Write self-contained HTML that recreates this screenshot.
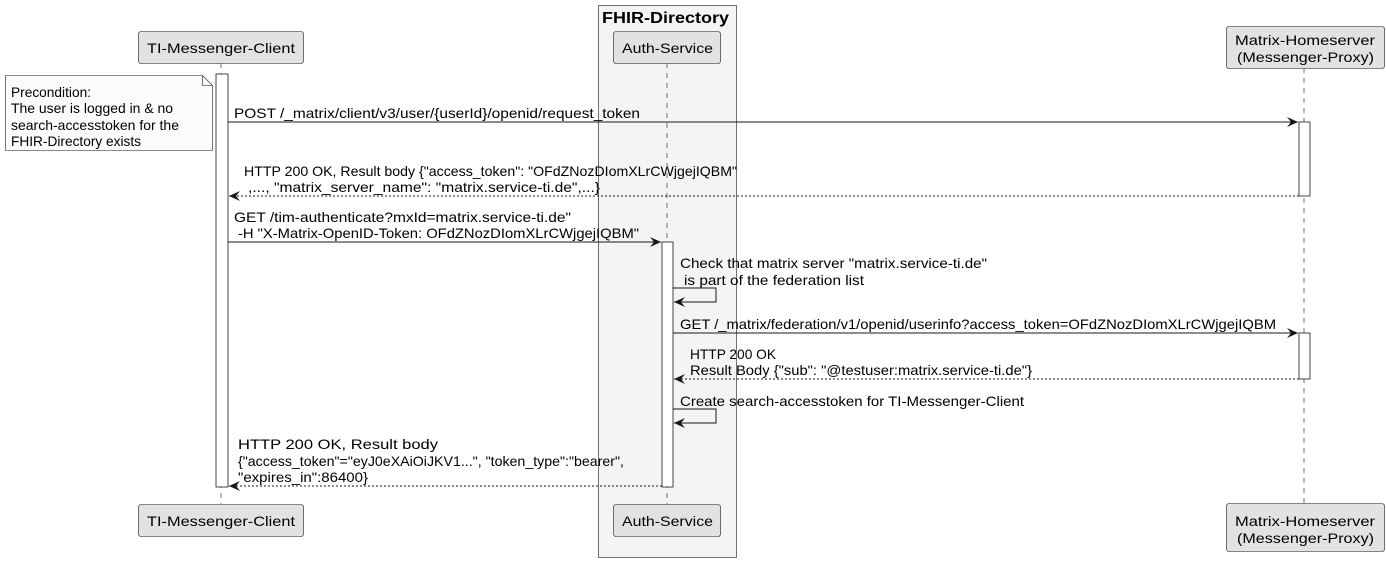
<!DOCTYPE html>
<html><head><meta charset="utf-8"><style>
html,body{margin:0;padding:0;background:#fff;}
svg text{font-family:"Liberation Sans","DejaVu Sans",sans-serif;font-size:14px;fill:#000;}
</style></head><body>
<svg width="1386" height="563" viewBox="0 0 1386 563" xmlns="http://www.w3.org/2000/svg">
<defs>
<marker id="a" markerWidth="12" markerHeight="10" refX="11" refY="5" orient="auto" markerUnits="userSpaceOnUse">
<path d="M0,0 L11,5 L0,10 L4,5 Z" fill="#181818"/>
</marker>
</defs>
<rect x="598.5" y="5.5" width="138" height="552" fill="#f4f4f4" stroke="#181818" stroke-width="0.6"/>
<text x="602" y="23" textLength="127" lengthAdjust="spacingAndGlyphs" style="font-weight:bold;font-size:16px">FHIR-Directory</text>
<g stroke="#181818" stroke-width="0.6" stroke-dasharray="5,5">
<line x1="221" y1="63" x2="221" y2="504"/>
<line x1="667" y1="63" x2="667" y2="504"/>
<line x1="1304" y1="68" x2="1304" y2="503"/>
</g>
<g fill="#e2e2e2" stroke="#181818" stroke-width="0.6">
<rect x="138.5" y="31.5" width="165" height="32" rx="2.5"/>
<rect x="613.5" y="31.5" width="107" height="32" rx="2.5"/>
<rect x="1226.5" y="26.5" width="158" height="42" rx="2.5"/>
<rect x="138.5" y="504.5" width="165" height="32" rx="2.5"/>
<rect x="613.5" y="504.5" width="107" height="32" rx="2.5"/>
<rect x="1226.5" y="503.5" width="158" height="48" rx="2.5"/>
</g>
<g style="font-size:15px">
<text x="147" y="53" textLength="148" lengthAdjust="spacingAndGlyphs">TI-Messenger-Client</text>
<text x="622" y="53" textLength="91" lengthAdjust="spacingAndGlyphs">Auth-Service</text>
<text x="1235" y="45" textLength="140" lengthAdjust="spacingAndGlyphs">Matrix-Homeserver</text>
<text x="1237" y="62" textLength="137" lengthAdjust="spacingAndGlyphs">(Messenger-Proxy)</text>
<text x="147" y="526" textLength="148" lengthAdjust="spacingAndGlyphs">TI-Messenger-Client</text>
<text x="622" y="526" textLength="91" lengthAdjust="spacingAndGlyphs">Auth-Service</text>
<text x="1235" y="526" textLength="140" lengthAdjust="spacingAndGlyphs">Matrix-Homeserver</text>
<text x="1237" y="543" textLength="137" lengthAdjust="spacingAndGlyphs">(Messenger-Proxy)</text>
</g>
<g fill="#fff" stroke="#181818" stroke-width="0.8">
<rect x="216" y="74" width="12" height="413"/>
<rect x="662" y="242" width="11" height="245"/>
<rect x="1299" y="122" width="11" height="74"/>
<rect x="1299" y="333" width="11" height="46"/>
</g>
<path d="M5.5,75.5 L202.5,75.5 L212.5,85.5 L212.5,150.5 L5.5,150.5 Z" fill="#fbfbfb" stroke="#181818" stroke-width="0.6"/>
<path d="M202.5,75.5 L202.5,85.5 L212.5,85.5" fill="none" stroke="#181818" stroke-width="0.6"/>
<text x="11" y="97" textLength="80" lengthAdjust="spacingAndGlyphs">Precondition:</text>
<text x="11" y="113" textLength="162" lengthAdjust="spacingAndGlyphs">The user is logged in &amp; no</text>
<text x="11" y="130" textLength="168" lengthAdjust="spacingAndGlyphs">search-accesstoken for the</text>
<text x="11" y="146" textLength="130" lengthAdjust="spacingAndGlyphs">FHIR-Directory exists</text>
<g stroke="#181818" stroke-width="1" fill="none">
<line x1="228" y1="122" x2="1298" y2="122" marker-end="url(#a)"/>
<line x1="1299" y1="196" x2="229" y2="196" stroke-dasharray="2,2" marker-end="url(#a)"/>
<line x1="228" y1="242" x2="661" y2="242" marker-end="url(#a)"/>
<polyline points="673,288 716,288 716,302 674,302" marker-end="url(#a)"/>
<line x1="673" y1="333" x2="1298" y2="333" marker-end="url(#a)"/>
<line x1="1299" y1="379" x2="674" y2="379" stroke-dasharray="2,2" marker-end="url(#a)"/>
<polyline points="673,409 716,409 716,423 674,423" marker-end="url(#a)"/>
<line x1="662" y1="486" x2="229" y2="486" stroke-dasharray="2,2" marker-end="url(#a)"/>
</g>
<text x="234" y="118" textLength="406" lengthAdjust="spacingAndGlyphs">POST /_matrix/client/v3/user/{userId}/openid/request_token</text>
<text x="244" y="176" textLength="493" lengthAdjust="spacingAndGlyphs">HTTP 200 OK, Result body {"access_token": "OFdZNozDIomXLrCWjgejIQBM"</text>
<text x="248" y="192" textLength="352" lengthAdjust="spacingAndGlyphs">,..., "matrix_server_name": "matrix.service-ti.de",...}</text>
<text x="234" y="222" textLength="337" lengthAdjust="spacingAndGlyphs">GET /tim-authenticate?mxId=matrix.service-ti.de"</text>
<text x="238" y="238" textLength="401" lengthAdjust="spacingAndGlyphs">-H "X-Matrix-OpenID-Token: OFdZNozDIomXLrCWjgejIQBM"</text>
<text x="680" y="268" textLength="307" lengthAdjust="spacingAndGlyphs">Check that matrix server "matrix.service-ti.de"</text>
<text x="684" y="285" textLength="180" lengthAdjust="spacingAndGlyphs">is part of the federation list</text>
<text x="680" y="329" textLength="596" lengthAdjust="spacingAndGlyphs">GET /_matrix/federation/v1/openid/userinfo?access_token=OFdZNozDIomXLrCWjgejIQBM</text>
<text x="690" y="359" textLength="86" lengthAdjust="spacingAndGlyphs">HTTP 200 OK</text>
<text x="690" y="375" textLength="342" lengthAdjust="spacingAndGlyphs">Result Body {"sub": "@testuser:matrix.service-ti.de"}</text>
<text x="680" y="406" textLength="344" lengthAdjust="spacingAndGlyphs">Create search-accesstoken for TI-Messenger-Client</text>
<text x="238" y="449" textLength="200" lengthAdjust="spacingAndGlyphs">HTTP 200 OK, Result body</text>
<text x="238" y="466" textLength="386" lengthAdjust="spacingAndGlyphs">{"access_token"="eyJ0eXAiOiJKV1...", "token_type":"bearer",</text>
<text x="238" y="482" textLength="130" lengthAdjust="spacingAndGlyphs">"expires_in":86400}</text>
</svg>
</body></html>
